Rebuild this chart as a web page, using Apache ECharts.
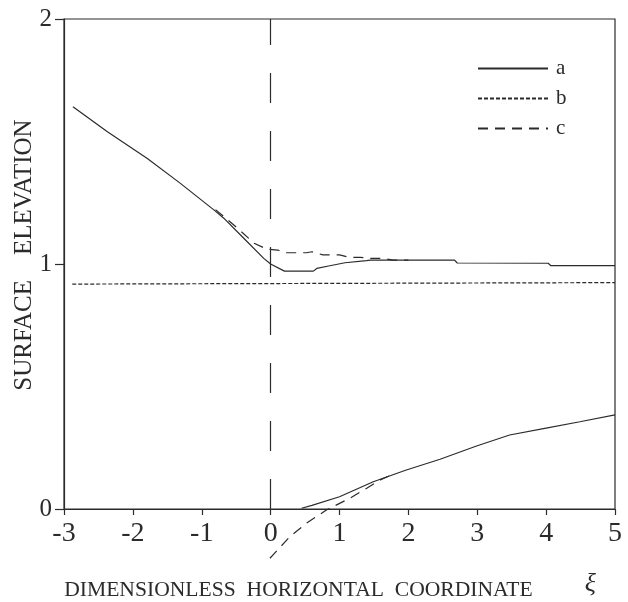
<!DOCTYPE html>
<html>
<head>
<meta charset="utf-8">
<script src="https://cdn.jsdelivr.net/npm/echarts@6/dist/echarts.min.js"></script>
<style>
html,body{margin:0;padding:0;background:#ffffff;}
#chart{width:628px;height:602px;}
</style>
</head>
<body>
<div id="chart"></div>
<script>
// ---- data ----
var xTicks = [-3, -2, -1, 0, 1, 2, 3, 4, 5];
var yTicks = [0, 1, 2];
var seriesNames = ['a', 'b', 'c'];
var dividerX = 0;

// curve a (solid): upper surface branch and lower branch
var aUpper = [
  [-2.87, 1.642], [-2.37, 1.540], [-1.79, 1.431], [-1.31, 1.329], [-0.82, 1.220],
  [-0.68, 1.187], [-0.39, 1.105], [-0.10, 1.023], [0.00, 1.000], [0.20, 0.971],
  [0.62, 0.971], [0.67, 0.982], [0.86, 0.993], [1.08, 1.005], [1.39, 1.014],
  [1.45, 1.016], [2.67, 1.016], [2.71, 1.004], [4.03, 1.003], [4.07, 0.993],
  [5.00, 0.993]
];
var aLower = [
  [0.45, 0.003], [0.60, 0.015], [1.00, 0.050], [1.49, 0.111], [1.97, 0.159],
  [2.46, 0.203], [2.99, 0.257], [3.47, 0.302], [3.98, 0.329], [4.49, 0.356],
  [5.00, 0.384]
];
// curve b (dotted)
var bLine = [[-2.88, 0.918], [5.00, 0.924]];
// curve c (dashed): upper and lower branches
var cUpper = [
  [-0.80, 1.222], [-0.48, 1.146], [-0.24, 1.085], [-0.05, 1.060], [0.10, 1.057],
  [0.23, 1.046], [0.52, 1.046], [0.60, 1.050], [0.76, 1.037], [1.00, 1.037],
  [1.15, 1.027], [1.30, 1.027], [1.44, 1.023], [1.63, 1.023], [1.78, 1.016],
  [2.00, 1.016]
];
var cLower = [
  [-0.01, -0.201], [0.28, -0.113], [0.52, -0.058], [0.81, -0.004], [1.15, 0.044],
  [1.39, 0.084], [1.60, 0.120], [1.72, 0.135]
];

// ---- styling ----
var ink = '#2b2b2b';
var serif = '"Liberation Serif", "DejaVu Serif", serif';
function lineSeries(name, data, type, extra) {
  var s = {
    name: name, type: 'line', data: data, symbol: 'none', showSymbol: false,
    animation: false, silent: true,
    lineStyle: { color: ink, width: 1.2, type: type },
    itemStyle: { color: ink }
  };
  for (var k in extra) s[k] = extra[k];
  return s;
}

var chart = echarts.init(document.getElementById('chart'), null, { renderer: 'canvas' });
chart.setOption({
  backgroundColor: '#ffffff',
  animation: false,
  grid: {
    left: 64, right: 13, top: 19, bottom: 93,
    outerBoundsMode: 'none', containLabel: false,
    show: true, borderColor: ink, borderWidth: 1.2, backgroundColor: 'transparent'
  },
  legend: {
    data: seriesNames,
    orient: 'vertical',
    left: 477, top: 58, padding: 0,
    itemWidth: 70, itemHeight: 14, itemGap: 9,
    selectedMode: false,
    itemStyle: { opacity: 0 },
    textStyle: { fontFamily: serif, fontSize: 21, color: ink, padding: [0, 0, 0, 3] }
  },
  xAxis: {
    type: 'value', min: xTicks[0], max: xTicks[xTicks.length - 1], interval: 1,
    name: '{t|DIMENSIONLESS  HORIZONTAL  COORDINATE}{x|\u03BE}',
    nameLocation: 'middle', nameGap: 62,
    nameTextStyle: {
      rich: {
        t: { fontFamily: serif, fontSize: 21.6, color: ink },
        x: { fontFamily: serif, fontSize: 26, fontStyle: 'italic', color: ink, padding: [0, 19, 12, 52] }
      }
    },
    axisLine: { show: true, onZero: false, lineStyle: { color: ink, width: 1.2 } },
    axisTick: { show: true, inside: false, length: 6, lineStyle: { color: ink, width: 1.2 } },
    axisLabel: { fontFamily: serif, fontSize: 28, color: ink, margin: 11 },
    splitLine: { show: false }
  },
  yAxis: {
    type: 'value', min: yTicks[0], max: yTicks[yTicks.length - 1], interval: 1,
    name: 'SURFACE    ELEVATION',
    nameLocation: 'middle', nameGap: 27, nameMoveOverlap: false,
    nameTextStyle: { fontFamily: serif, fontSize: 25, color: ink, padding: [0, 0, 0, 18] },
    axisLine: { show: true, onZero: false, lineStyle: { color: ink, width: 1.2 } },
    axisTick: { show: true, inside: false, length: 9, lineStyle: { color: ink, width: 1.2 } },
    axisLabel: { fontFamily: serif, fontSize: 25, color: ink, margin: 12 },
    splitLine: { show: false }
  },
  series: [
    lineSeries('a', aUpper, 'solid', {
      markLine: {
        silent: true, symbol: 'none', animation: false,
        label: { show: false },
        lineStyle: { color: ink, width: 1.2, type: [30, 28] },
        data: [{ xAxis: dividerX }]
      }
    }),
    lineSeries('a', aLower, 'solid', {}),
    lineSeries('b', bLine, [4, 2], {}),
    lineSeries('c', cUpper, [10, 7], {}),
    lineSeries('c', cLower, [10, 7], { clip: false })
  ]
});
</script>
</body>
</html>
